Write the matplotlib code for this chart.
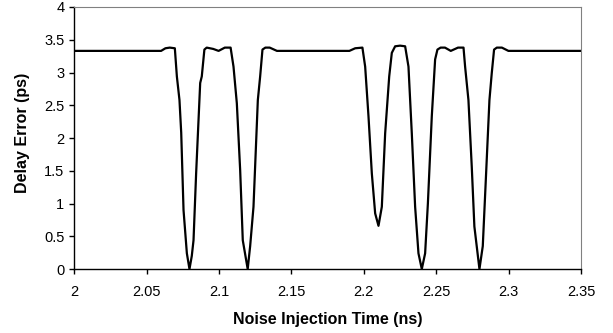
import matplotlib.pyplot as plt

plt.rcParams['font.family'] = ['Liberation Sans', 'DejaVu Sans']

# noise injection time (ns) and delay error (ps)
time_ns = [2.000, 2.060, 2.063, 2.066, 2.0695, 2.0709, 2.0727, 2.0739, 2.0755, 2.0778,
           2.0796, 2.0812, 2.0824, 2.0842, 2.0870, 2.0881, 2.0899, 2.0915, 2.0960,
           2.0997, 2.1040, 2.1080, 2.1100, 2.1123, 2.1146, 2.1164, 2.1198, 2.1215,
           2.1238, 2.1268, 2.1284, 2.1300, 2.1320, 2.1350, 2.1400, 2.1900, 2.1940,
           2.1990, 2.2009, 2.2032, 2.2055, 2.2078, 2.2101, 2.2124, 2.2147, 2.2175,
           2.2193, 2.2216, 2.2250, 2.2285, 2.2308, 2.2331, 2.2354, 2.2377, 2.2400,
           2.2423, 2.2442, 2.2469, 2.2492, 2.2508, 2.2530, 2.2560, 2.2600, 2.2650,
           2.2688, 2.2699, 2.2722, 2.2745, 2.2763, 2.2798, 2.2821, 2.2844, 2.2867,
           2.2883, 2.2899, 2.2918, 2.2953, 2.2998, 2.3500]
delay_ps = [3.33, 3.33, 3.37, 3.38, 3.37, 2.94, 2.58, 2.08, 0.90, 0.24,
            0.00, 0.20, 0.44, 1.46, 2.84, 2.94, 3.35, 3.38, 3.36,
            3.33, 3.38, 3.38, 3.09, 2.53, 1.51, 0.44, 0.00, 0.35,
            0.95, 2.58, 2.94, 3.35, 3.38, 3.38, 3.33, 3.33, 3.37,
            3.38, 3.09, 2.33, 1.46, 0.85, 0.66, 0.95, 2.07, 2.94,
            3.30, 3.40, 3.41, 3.40, 3.09, 2.07, 0.95, 0.24, 0.00,
            0.24, 1.00, 2.33, 3.20, 3.35, 3.38, 3.38, 3.33, 3.38,
            3.38, 3.09, 2.58, 1.56, 0.65, 0.00, 0.35, 1.46, 2.58,
            2.99, 3.35, 3.38, 3.38, 3.33, 3.33]

x_ticks = [2, 2.05, 2.1, 2.15, 2.2, 2.25, 2.3, 2.35]
x_labels = ['2', '2.05', '2.1', '2.15', '2.2', '2.25', '2.3', '2.35']
y_ticks = [0, 0.5, 1, 1.5, 2, 2.5, 3, 3.5, 4]
y_labels = ['0', '0.5', '1', '1.5', '2', '2.5', '3', '3.5', '4']

fig, ax = plt.subplots(figsize=(6.13, 3.33), dpi=100)
fig.subplots_adjust(left=0.121, right=0.948, top=0.979, bottom=0.192)

ax.plot(time_ns, delay_ps, color='black', linewidth=1.6, solid_joinstyle='round')

ax.set_xlim(2, 2.35)
ax.set_ylim(0, 4)
ax.set_xticks(x_ticks)
ax.set_xticklabels(x_labels)
ax.set_yticks(y_ticks)
ax.set_yticklabels(y_labels)
ax.tick_params(axis='both', direction='out', length=3.5, width=1, labelsize=10.5, color='black')
ax.tick_params(axis='x', pad=8)
ax.tick_params(axis='y', pad=3.5)

ax.spines['top'].set_color('#808080')
ax.spines['right'].set_color('#808080')
for side in ['left', 'bottom']:
    ax.spines[side].set_color('black')
    ax.spines[side].set_linewidth(1)

ax.set_xlabel('Noise Injection Time (ns)', fontsize=11.5, fontweight='bold')
ax.set_ylabel('Delay Error (ps)', fontsize=11.5, fontweight='bold')
ax.xaxis.set_label_coords(0.5, -0.162)
ax.yaxis.set_label_coords(-0.087, 0.52)

fig.savefig('out.png', dpi=100)
